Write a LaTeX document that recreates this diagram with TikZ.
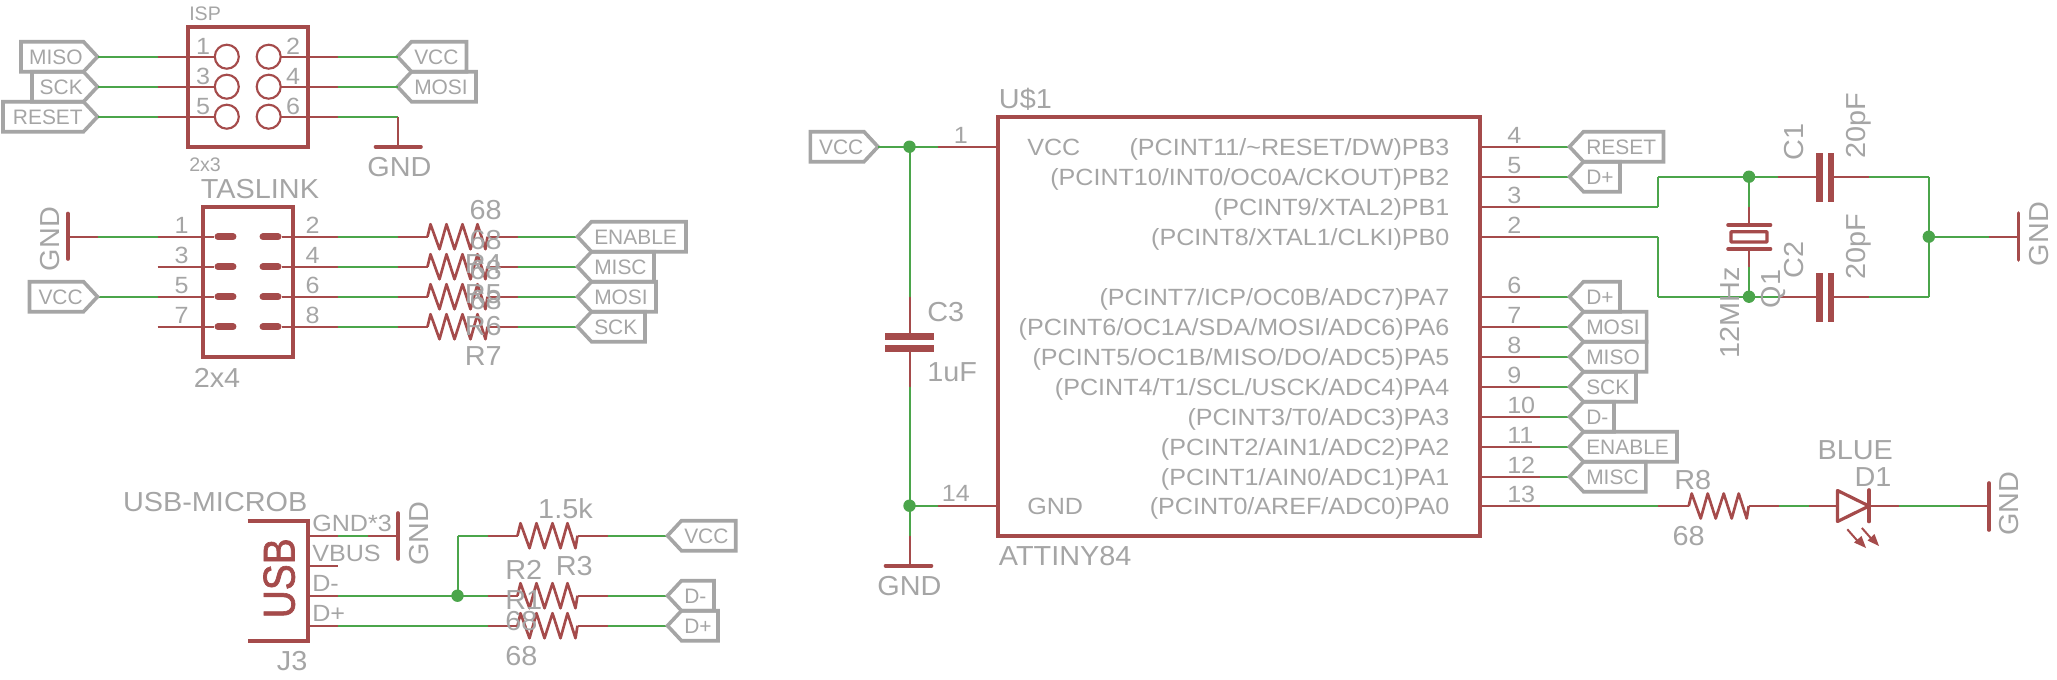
\documentclass[tikz,border=0pt]{standalone}
\usepackage{fontspec}
\usepackage{graphicx}
\setmainfont{Liberation Sans}
\newfontfamily\wideface[FakeStretch=1.05]{Liberation Sans}
\newfontfamily\widerface[FakeStretch=1.07]{Liberation Sans}
\newfontfamily\usbface[FakeBold=1.6]{Liberation Sans}
\definecolor{nred}{HTML}{A54B4B}
\definecolor{ngreen}{HTML}{4BA54B}
\definecolor{ngray}{HTML}{A5A5A5}
\tikzset{
  wr/.style={draw=nred,line width=1.5pt},
  wg/.style={draw=ngreen,line width=1.5pt},
  box/.style={draw=nred,line width=3pt,miter limit=10},
  bar/.style={draw=nred,line width=2.7pt,line cap=round},
  res/.style={draw=nred,line width=2pt,line join=round},
  tagline/.style={draw=ngray,line width=2.7pt,line join=miter},
  tA/.style={inner sep=0pt,text=ngray,text height=15pt,text depth=0pt,font=\wideface\fontsize{20.6}{24}\selectfont},
  tB/.style={inner sep=0pt,text=ngray,text height=12.75pt,text depth=0pt,font=\widerface\fontsize{17.6}{21}\selectfont},
  tC/.style={inner sep=0pt,text=ngray,text height=11.25pt,text depth=0pt,font=\fontsize{15.7}{19}\selectfont},
  tD/.style={inner sep=0pt,text=ngray,text height=10.5pt,text depth=0pt,font=\fontsize{14.7}{18}\selectfont},
  jn/.style={fill=ngreen,draw=none},
}
% wire run along one row: name, y, start x, list of style/x
\newcommand{\run}[4]{%
  \coordinate (#1-0) at (#3,#2);
  \foreach \st/\xx [count=\i, remember=\i as \j (initially 0)] in {#4} {
    \coordinate (#1-\i) at (\xx,#2);
    \draw[\st] (#1-\j) -- (#1-\i);
  }}
% resistor: name, x, y
\newcommand{\resist}[3]{%
  \coordinate (#1) at (#2,#3);
  \draw[res] (#1) -- +(3,-12.5) -- +(12,12.5) -- +(19,-12.5) -- +(27,12.5) -- +(35,-12.5) -- +(43,12.5) -- +(50,-12.5) -- +(58,12.5) -- +(60,0);}
% tag pointing right: name, left, tip, y, text
\newcommand{\tagL}[5]{%
  \draw[tagline] (#2,#4-15) -- (#3-14,#4-15) -- (#3,#4) -- (#3-14,#4+15) -- (#2,#4+15) -- cycle;
  \node[tC,anchor=east] (#1) at (#3-14.5,#4) {#5};}
% tag pointing left: name, tip, right, y, text
\newcommand{\tagR}[5]{%
  \draw[tagline] (#3,#4-15) -- (#2+14,#4-15) -- (#2,#4) -- (#2+14,#4+15) -- (#3,#4+15) -- cycle;
  \node[tC,anchor=west] (#1) at (#2+16.5,#4) {#5};}
\newcommand{\junct}[2]{\fill[jn] (#1,#2) circle (6.2);}
\begin{document}
\begin{tikzpicture}[x=0.75pt,y=-0.75pt]
\useasboundingbox (0,0) rectangle (2057,679);

% ---------- ISP
\tagL{tmiso}{21}{97.5}{56.7}{MISO}
\tagL{tsck}{32}{97.5}{86.7}{SCK}
\tagL{treset}{3}{97.5}{116.7}{RESET}
\tagR{tvcc}{397.5}{466.5}{56.7}{VCC}
\tagR{tmosi}{397.5}{476}{86.7}{MOSI}
\draw[box] (187.5,26.7) rectangle (307.5,146.7);
\foreach \y/\p in {56.7/a,86.7/b,116.7/c}{
  \draw[draw=nred,line width=1.6pt] (226.8,\y) circle (12);
  \draw[draw=nred,line width=1.6pt] (268.7,\y) circle (12);
  \run{isl\p}{\y}{97.5}{wg/157.5,wr/214.8}
}
\foreach \y/\p in {56.7/a,86.7/b}{\run{isr\p}{\y}{280.7}{wr/337.5,wg/397.5}}
\run{isrc}{116.7}{280.7}{wr/337.5,wg/397.5}
\coordinate (ispg) at (397.5,146.7);
\draw[wr] (isrc-2) -- (ispg);
\draw[bar] (375.5,146.7) -- (421,146.7);
\node[tD,anchor=west] (nisp) at (189,13.6) {ISP};
\node[tD,anchor=west] (n2x3) at (189,164) {2x3};
\foreach \n/\y/\t in {a/46/1,b/76/3,c/106/5}{\node[tB] (ispnl\n) at (203,\y) {\t};}
\foreach \n/\y/\t in {a/46/2,b/76/4,c/106/6}{\node[tB] (ispnr\n) at (293,\y) {\t};}
\node[tA] (g1) at (399.5,166.7) {GND};

% ---------- TASLINK
\draw[box] (202.5,206.7) rectangle (292.5,356.7);
\foreach \y/\p in {236.7/a,266.7/b,296.7/c,326.7/d}{
  \draw[draw=nred,line width=5.2pt,line cap=round] (218,\y) -- (233,\y);
  \draw[draw=nred,line width=5.2pt,line cap=round] (263,\y) -- (278,\y);
  \run{tr\p}{\y}{282}{wr/337.5,wg/397.5,wr/427.5}
  \resist{trr\p}{427.5}{\y}
  \run{tq\p}{\y}{487.5}{wr/517.5,wg/577.5}
}
\run{tla}{236.7}{68}{wr/97.5,wg/157.5,wr/214}
\draw[wr] (157.5,266.7) coordinate (tlb) -- (214,266.7) coordinate (tlbe);
\run{tlc}{296.7}{97.5}{wg/157.5,wr/214}
\draw[wr] (157.5,326.7) coordinate (tld) -- (214,326.7) coordinate (tlde);
\draw[bar] (68,213.5) -- (68,259);
\tagL{tvcc2}{29.5}{97.5}{296.7}{VCC}
\tagR{tenable}{577.5}{686}{236.7}{ENABLE}
\tagR{tmisc}{577.5}{654}{266.7}{MISC}
\tagR{tmosi2}{577.5}{656}{296.7}{MOSI}
\tagR{tsck2}{577.5}{645}{326.7}{SCK}
\node[tA] (ntas) at (260,188) {TASLINK};
\node[tA] (n2x4) at (217,377) {2x4};
\node[tA,rotate=90] (g2) at (49,239) {GND};
\foreach \n/\y/\t in {a/225/1,b/255/3,c/285/5,d/315/7}{\node[tB] (tnl\n) at (181.7,\y) {\t};}
\foreach \n/\y/\t in {a/225/2,b/255/4,c/285/6,d/315/8}{\node[tB] (tnr\n) at (312.5,\y) {\t};}
\foreach \n/\y in {a/209,b/239,c/269,d/299}{\node[tA,anchor=east] (tv\n) at (502,\y) {68};}
\foreach \n/\y/\t in {a/263/R4,b/293/R5,c/325/R6,d/355/R7}{\node[tA,anchor=east] (tn\n) at (502,\y) {\t};}

% ---------- USB
\draw[box] (247.5,520.7) -- (307.5,520.7) -- (307.5,640.7) -- (247.5,640.7);
\run{ua}{535.7}{307.5}{wr/338,wg/368,wr/398}
\draw[wr] (307.5,565.7) coordinate (ub) -- (338,565.7) coordinate (ube);
\run{uc}{595.7}{307.5}{wr/338,wg/487.5,wr/517.5}
\run{ud}{625.7}{307.5}{wr/338,wg/487.5,wr/517.5}
\draw[bar] (398,513) -- (398,559);
\coordinate (ujn) at (457.5,595.7);
\coordinate (uup) at (457.5,535.7);
\draw[wg] (ujn) -- (uup);
\junct{457.5}{595.7}
\run{ue}{535.7}{457.5}{wg/487.5,wr/517.5}
\foreach \y/\p in {535.7/a,595.7/b,625.7/c}{
  \resist{urr\p}{517.5}{\y}
  \run{uq\p}{\y}{577.5}{wr/607.5,wg/667.5}
}
\tagR{tvcc3}{667.5}{735.7}{535.7}{VCC}
\tagR{tdm}{667.5}{714}{595.7}{D-}
\tagR{tdp}{667.5}{718}{625.7}{D+}
\node[inner sep=0pt,text=nred,rotate=90,text height=24pt,text depth=0pt,font=\usbface\fontsize{33.5}{38}\selectfont] (nusb) at (278.6,578.3) {\scalebox{0.87}[1]{USB}};
\node[tA,anchor=east] (nusbm) at (307.6,501.7) {USB-MICROB};
\node[tB,anchor=west] (ngnd3) at (312,523) {GND*3};
\node[tB,anchor=west] (nvbus) at (312,553) {VBUS};
\node[tB,anchor=west] (ndm) at (312,583) {D-};
\node[tB,anchor=west] (ndp) at (312,613) {D+};
\node[tA,anchor=east] (nj3) at (307.6,660) {J3};
\node[tA,rotate=90] (g3) at (418,533.5) {GND};
\node[tA,anchor=east] (n15k) at (593,508) {1.5k};
\node[tA,anchor=east] (nr3) at (593,565) {R3};
\node[tA,anchor=west] (nr2) at (505,569) {R2};
\node[tA,anchor=west] (nr1) at (505,599) {R1};
\node[tA,anchor=west] (n68a) at (505,620) {68};
\node[tA,anchor=west] (n68b) at (505,655.7) {68};

% ---------- ATTINY84
\draw[box] (998,116.7) rectangle (1479.5,536);
\tagL{tvcc4}{810.4}{878}{146.7}{VCC}
\run{aa}{146.7}{878}{wg/938,wr/998}
\run{ag}{505.7}{909.5}{wg/938,wr/998}
\coordinate (cv0) at (909.5,146.7);
\coordinate (cv1) at (909.5,296.7);
\coordinate (cv2) at (909.5,336.5);
\coordinate (cv3) at (909.5,348.5);
\coordinate (cv4) at (909.5,386.7);
\coordinate (cv5) at (909.5,535.7);
\coordinate (cv6) at (909.5,565.7);
\draw[wg] (cv0) -- (cv1);
\draw[wr] (cv1) -- (cv2);
\draw[wr] (cv3) -- (cv4);
\draw[wg] (cv4) -- (cv5);
\draw[wr] (cv5) -- (cv6);
\fill[nred] (885,333) rectangle (934,340);
\fill[nred] (885,345) rectangle (934,352);
\draw[bar] (885.5,565.7) -- (931.5,565.7);
\junct{909.5}{146.7}
\junct{909.5}{505.7}
\node[tA] (g4) at (909.5,585.7) {GND};
\node[tA,anchor=west] (nc3) at (927,311.7) {C3};
\node[tA,anchor=west] (n1uf) at (927,371.7) {1uF};
\node[tB,anchor=east] (n1) at (968,135) {1};
\node[tB,anchor=east] (n14) at (970,493) {14};
\node[tA,anchor=west] (nu1) at (998.7,98) {U\$1};
\node[tA,anchor=west] (nat) at (998.7,555.7) {ATTINY84};
\node[tB,anchor=west] (nvcci) at (1027,147) {VCC};
\node[tB,anchor=west] (ngndi) at (1027,506) {GND};
\foreach \n/\y/\t in {
  a/146.7/{(PCINT11/\textasciitilde RESET/DW)PB3},
  b/176.7/{(PCINT10/INT0/OC0A/CKOUT)PB2},
  c/206.7/{(PCINT9/XTAL2)PB1},
  d/236.7/{(PCINT8/XTAL1/CLKI)PB0},
  e/296.7/{(PCINT7/ICP/OC0B/ADC7)PA7},
  f/326.7/{(PCINT6/OC1A/SDA/MOSI/ADC6)PA6},
  g/356.7/{(PCINT5/OC1B/MISO/DO/ADC5)PA5},
  h/386.7/{(PCINT4/T1/SCL/USCK/ADC4)PA4},
  i/416.7/{(PCINT3/T0/ADC3)PA3},
  j/446.7/{(PCINT2/AIN1/ADC2)PA2},
  k/476.7/{(PCINT1/AIN0/ADC1)PA1},
  l/506/{(PCINT0/AREF/ADC0)PA0}}{
  \node[tB,anchor=east] (pl\n) at (1449.6,\y) {\t};
}
\foreach \n/\y/\t in {a/146.7/4,b/176.7/5,e/296.7/6,f/326.7/7,g/356.7/8,h/386.7/9,i/416.7/10,j/446.7/11,k/476.7/12}{
  \run{pr\n}{\y}{1479.5}{wr/1539.5,wg/1569.5}
}
\foreach \n/\y/\t in {a/135/4,b/165/5,c/195/3,d/225/2,e/285/6,f/315/7,g/345/8,h/375/9,i/405/10,j/435/11,k/465/12,l/494/13}{
  \node[tB,anchor=west] (pn\n) at (1507,\y) {\t};
}
\tagR{trst5}{1569.5}{1663.5}{146.7}{RESET}
\tagR{tdp5}{1569.5}{1620}{176.7}{D+}
\tagR{tdp6}{1569.5}{1620}{296.7}{D+}
\tagR{tmo6}{1569.5}{1646.6}{326.7}{MOSI}
\tagR{tmi6}{1569.5}{1646.6}{356.7}{MISO}
\tagR{tsc6}{1569.5}{1636}{386.7}{SCK}
\tagR{tdm6}{1569.5}{1614}{416.7}{D-}
\tagR{ten6}{1569.5}{1677}{446.7}{ENABLE}
\tagR{tmc6}{1569.5}{1645.8}{476.7}{MISC}
% crystal nets
\run{pb1}{206.7}{1479.5}{wr/1539.5,wg/1658.4}
\coordinate (x1a) at (1658.4,176.7);
\draw[wg] (pb1-2) -- (x1a);
\run{c1l}{176.7}{1658.4}{wg/1778.4,wr/1815.8}
\run{pb0}{236.7}{1479.5}{wr/1539.5,wg/1658.4}
\coordinate (x2a) at (1658.4,296.7);
\draw[wg] (pb0-2) -- (x2a);
\run{c2l}{296.7}{1658.4}{wg/1778.4,wr/1815.8}
\foreach \y/\p/\a/\b in {176.7/a/152.7/201.7,296.7/b/273/321.7}{
  \fill[nred] (1815.8,\a) rectangle (1822.5,\b);
  \fill[nred] (1827.6,\a) rectangle (1833.5,\b);
  \run{cr\p}{\y}{1833.5}{wr/1869,wg/1928.8}
}
\draw[wg] (cra-2) -- (crb-2);
\run{cg}{236.7}{1928.8}{wg/1989,wr/2018.5}
\draw[bar] (2018.5,213) -- (2018.5,260);
\junct{1928.8}{236.7}
\coordinate (q0) at (1749,176.7);
\coordinate (q1) at (1749,206.7);
\coordinate (q2) at (1749,225);
\coordinate (q3) at (1749,249);
\coordinate (q4) at (1749,266.7);
\coordinate (q5) at (1749,296.7);
\draw[wg] (q0) -- (q1);
\draw[wr] (q1) -- (q2);
\draw[wr] (q3) -- (q4);
\draw[wg] (q4) -- (q5);
\draw[bar] (1728,225) -- (1770.5,225);
\draw[bar] (1728,249) -- (1770.5,249);
\draw[draw=nred,line width=2.4pt,fill=white,rounded corners=0.5pt] (1731,231.7) rectangle (1767,242);
\junct{1749}{176.7}
\junct{1749}{296.7}
\node[tA,rotate=90] (nc1) at (1793.8,142.3) {C1};
\node[tA,rotate=90] (n20a) at (1855,126) {20pF};
\node[tA,rotate=90] (nc2) at (1793.8,260) {C2};
\node[tA,rotate=90] (n20b) at (1855,246.7) {20pF};
\node[tA,rotate=90] (n12) at (1729,312.8) {12MHz};
\node[tA,rotate=90] (nq1) at (1770.6,288.8) {Q1};
\node[tA,rotate=90] (g5) at (2038,234) {GND};
% LED row
\run{pa0}{506}{1479.5}{wr/1539.5,wg/1658.4,wr/1688.7}
\resist{r8}{1688.7}{506}
\run{led}{506}{1748.7}{wr/1779,wg/1808.8,wr/1837.5}
\run{led2}{506}{1869}{wr/1898.5,wg/1959.5,wr/1989}
\draw[draw=nred,line width=2.4pt,line join=round] (1837.5,490.5) -- (1869,506) -- (1837.5,521.5) -- cycle;
\draw[bar] (1869,490) -- (1869,521.5);
\draw[bar] (1989,483) -- (1989,530);
\coordinate (la1) at (1847.3,529.3);
\coordinate (la2) at (1859,542.6);
\coordinate (lb1) at (1861.9,528);
\coordinate (lb2) at (1873,540.6);
\draw[wr] (la1) -- (la2);
\draw[wr] (lb1) -- (lb2);
\fill[nred] (1866,548) -- (1854,542.5) -- (1861.5,536) -- cycle;
\fill[nred] (1879,546) -- (1867.5,540.5) -- (1874.5,534) -- cycle;
\node[tA] (nr8) at (1692.7,479) {R8};
\node[tA] (n688) at (1688.7,535) {68};
\node[tA] (nblue) at (1855.2,449.3) {BLUE};
\node[tA] (nd1) at (1873,476) {D1};
\node[tA,rotate=90] (g6) at (2008.7,503.8) {GND};
\end{tikzpicture}
\end{document}
